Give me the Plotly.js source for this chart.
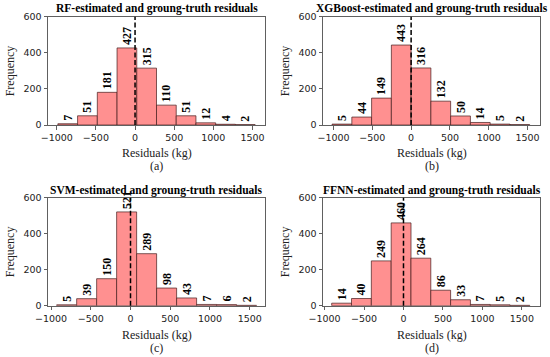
<!DOCTYPE html>
<html>
<head>
<meta charset="utf-8">
<script src="https://cdn.plot.ly/plotly-3.0.1.min.js"></script>
<style>html,body{margin:0;padding:0;background:#fff;}#chart{width:550px;height:357px;}</style>
</head>
<body>
<div id="chart"></div>
<script>
// ---- data ----
const models = ["RF", "XGBoost", "SVM", "FFNN"];
const panelLetters = ["(a)", "(b)", "(c)", "(d)"];
// histogram counts, 10 bins each
const countsRF      = [7, 51, 181, 427, 315, 110, 51, 12, 4, 2];
const countsXGBoost = [5, 44, 149, 443, 316, 132, 50, 14, 5, 2];
const countsSVM     = [5, 39, 150, 521, 289, 98, 43, 7, 6, 2];
const countsFFNN    = [14, 40, 249, 460, 264, 86, 33, 7, 5, 2];
// bin left edges (kg) and bin widths (kg)
const edgesRF      = [-986, -734, -482, -230, 22, 274, 526, 778, 1030, 1282];
const edgesXGBoost = [-1018, -763.5, -509, -254.5, 0, 254.5, 509, 763.5, 1018, 1272.5];
const edgesSVM     = [-929, -677.5, -426, -174.5, 77, 328.5, 580, 831.5, 1083, 1334.5];
const edgesFFNN    = [-910, -658.7, -407.4, -156, 95, 346, 597, 848, 1099, 1350];
const binWidths = [252, 254.5, 251.5, 251.3];
const xTicks = [-1000, -500, 0, 500, 1000, 1500];
const yTicks = [0, 200, 400, 600];

const allCounts = [countsRF, countsXGBoost, countsSVM, countsFFNN];
const allEdges = [edgesRF, edgesXGBoost, edgesSVM, edgesFFNN];

// ---- layout geometry ----
const W = 550, H = 357;
const colDom = [[48 / W, 265 / W], [323 / W, 540 / W]];
const rowDom = [[1 - 125 / H, 1 - 16.7 / H], [1 - 305.7 / H, 1 - 197.7 / H]];
const xRanges = [[-1112, 1660], [-1135, 1660], [-1038, 1692], [-1020, 1730]];

const serif = "'Liberation Serif', 'Times New Roman', Times, serif";
const sans = "'DejaVu Sans', sans-serif";

const traces = [];
const layout = {
  width: W, height: H,
  margin: {l: 0, r: 0, t: 0, b: 0},
  paper_bgcolor: "white", plot_bgcolor: "white",
  showlegend: false, bargap: 0,
  shapes: [], annotations: []
};

const axisCommon = {
  showline: true, mirror: true, linecolor: "#606060", linewidth: 1,
  ticks: "outside", ticklen: 3.5, tickwidth: 1, tickcolor: "#606060",
  tickfont: {family: sans, size: 9.5, color: "#222"},
  showgrid: false, zeroline: false, fixedrange: true
};

for (let i = 0; i < 4; i++) {
  const r = Math.floor(i / 2), c = i % 2;
  const sfx = i === 0 ? "" : String(i + 1);
  const xa = "x" + sfx, ya = "y" + sfx;
  const w = binWidths[i];
  const centers = allEdges[i].map(e => e + w / 2);
  traces.push({
    type: "bar", x: centers, y: allCounts[i], width: w,
    xaxis: xa, yaxis: ya,
    marker: {color: "#ff9090", line: {color: "rgba(70,30,30,0.7)", width: 1}},
    text: allCounts[i].map(String), textposition: "outside", textangle: -90,
    constraintext: "none", cliponaxis: false,
    outsidetextfont: {family: serif, size: 12, color: "black", weight: "bold"},
    hoverinfo: "skip"
  });
  layout["xaxis" + sfx] = Object.assign({}, axisCommon, {
    domain: colDom[c], range: xRanges[i], anchor: ya,
    tickmode: "array", tickvals: xTicks
  });
  layout["yaxis" + sfx] = Object.assign({}, axisCommon, {
    domain: rowDom[r], range: [0, 600], anchor: xa,
    tickmode: "array", tickvals: yTicks
  });
  layout.shapes.push({
    type: "line", xref: xa, yref: ya + " domain", x0: 0, x1: 0, y0: 0, y1: 1,
    line: {color: "black", width: 1.5, dash: "5px,2.5px"}
  });
  const cx = (colDom[c][0] + colDom[c][1]) / 2;
  const titleY = r === 0 ? 8.5 : 190;
  const labY = r === 0 ? 153.3 : 335;
  const letY = r === 0 ? 166 : 347.7;
  layout.annotations.push({
    xref: "paper", yref: "paper", x: cx, y: 1 - titleY / H, xanchor: "center", yanchor: "middle",
    showarrow: false, text: "<b>" + models[i] + "-estimated and groung-truth residuals</b>",
    font: {family: serif, size: 11.5, color: "black"}
  });
  layout.annotations.push({
    xref: "paper", yref: "paper", x: cx, y: 1 - labY / H, xanchor: "center", yanchor: "middle",
    showarrow: false, text: "Residuals (kg)", font: {family: serif, size: 12, color: "#222"}
  });
  layout.annotations.push({
    xref: "paper", yref: "paper", x: cx, y: 1 - letY / H, xanchor: "center", yanchor: "middle",
    showarrow: false, text: panelLetters[i], font: {family: serif, size: 12, color: "#222"}
  });
  layout.annotations.push({
    xref: "paper", yref: "paper", x: (c === 0 ? 9.5 : 284.5) / W,
    y: (rowDom[r][0] + rowDom[r][1]) / 2, xanchor: "center", yanchor: "middle",
    showarrow: false, textangle: -90, text: "Frequency", font: {family: serif, size: 12, color: "#222"}
  });
}

Plotly.newPlot("chart", traces, layout, {staticPlot: true, displayModeBar: false});
</script>
</body>
</html>
